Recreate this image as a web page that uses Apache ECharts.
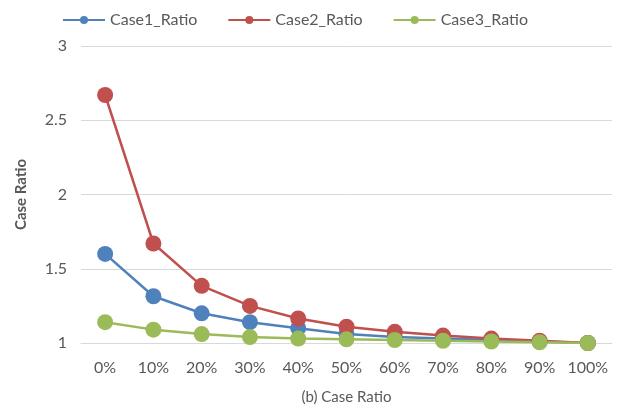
<!DOCTYPE html>
<html><head><meta charset="utf-8">
<script src="https://cdn.jsdelivr.net/npm/echarts@6/dist/echarts.min.js"></script>
<style>html,body{margin:0;padding:0;background:#fff}#c{width:619px;height:410px}</style>
</head><body><div id="c"></div>
<script>
var categories = ['0%','10%','20%','30%','40%','50%','60%','70%','80%','90%','100%'];
var case1 = [1.60, 1.315, 1.20, 1.14, 1.10, 1.06, 1.04, 1.03, 1.02, 1.01, 1.00];
var case2 = [2.67, 1.67, 1.385, 1.25, 1.165, 1.11, 1.075, 1.05, 1.03, 1.015, 1.00];
var case3 = [1.14, 1.09, 1.06, 1.04, 1.03, 1.025, 1.02, 1.015, 1.01, 1.005, 1.00];
var seriesNames = ['Case1_Ratio','Case2_Ratio','Case3_Ratio'];
var colors = ['#4F81BD','#C0504D','#9BBB59'];
var font = "Lato, 'Open Sans', 'DejaVu Sans', sans-serif";
var chart = echarts.init(document.getElementById('c'));
function mk(name, data, color){
  return {name:name, type:'line', data:data, symbol:'circle', symbolSize:16,
    itemStyle:{color:color}, lineStyle:{color:color, width:2.5}, animation:false};
}
chart.setOption({
  animation:false,
  textStyle:{fontFamily:font},
  legend:{top:7, left:57, itemWidth:42, itemHeight:10, itemGap:30,
    textStyle:{fontSize:16, color:'#595959', fontFamily:font}},
  grid:{left:81, right:7, top:46, bottom:66},
  xAxis:{type:'category', data:categories, boundaryGap:true,
    name:'(b) Case Ratio', nameLocation:'middle', nameGap:47,
    nameTextStyle:{fontSize:15, color:'#595959', fontFamily:font},
    axisLine:{lineStyle:{color:'#D9D9D9'}}, axisTick:{show:false},
    axisLabel:{fontSize:16, color:'#595959', margin:17, interval:0, fontFamily:font}},
  yAxis:{type:'value', min:1, max:3, interval:0.5,
    name:'Case Ratio', nameLocation:'middle', nameGap:52, nameRotate:90,
    nameTextStyle:{fontSize:15, color:'#595959', fontWeight:'bold', fontFamily:font},
    axisLine:{show:false}, axisTick:{show:false},
    splitLine:{lineStyle:{color:'#D9D9D9'}},
    axisLabel:{fontSize:16, color:'#595959', margin:14, fontFamily:font}},
  series:[mk(seriesNames[0], case1, colors[0]), mk(seriesNames[1], case2, colors[1]), mk(seriesNames[2], case3, colors[2])]
});
</script></body></html>
